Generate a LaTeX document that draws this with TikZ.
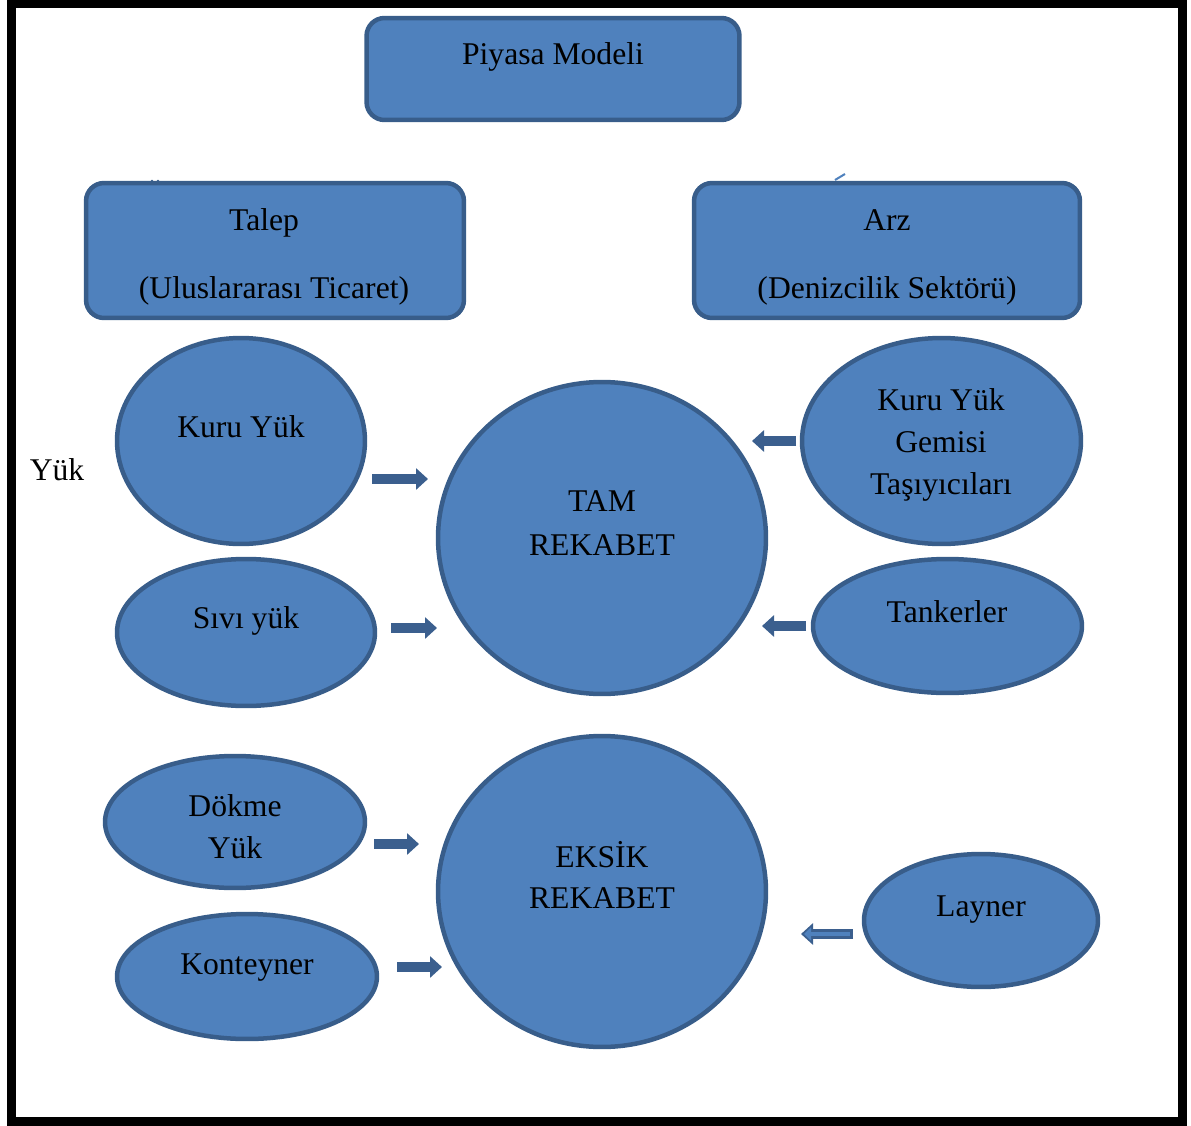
\documentclass[tikz,border=0pt]{standalone}
\usepackage{fontspec}
\setmainfont{Liberation Serif}
\usetikzlibrary{shapes.geometric,arrows.meta}
\definecolor{boxfill}{HTML}{4F81BD}
\definecolor{boxline}{HTML}{385D8A}
\definecolor{arrowblue}{HTML}{3B5F8E}

\begin{document}
\begin{tikzpicture}[x=0.02cm,y=-0.02cm]
    % Define styles
    \tikzstyle{frame}=[draw=black, line width=0.18cm]
    \tikzstyle{panel}=[draw=boxline, line width=0.09cm, fill=boxfill, rounded corners=0.36cm, inner sep=0pt]
    \tikzstyle{blob}=[ellipse, draw=boxline, line width=0.09cm, fill=boxfill, inner sep=0pt]
    \tikzstyle{txt}=[font=\fontsize{18}{24}\selectfont, align=center, inner sep=0pt]
    \tikzstyle{push}=[draw=arrowblue, line width=0.2cm, -{Triangle[length=0.24cm,width=0.42cm]}]
    \tikzstyle{hollowpush}=[draw=boxfill, line width=0.07cm, -{Triangle[length=0.14cm,width=0.26cm]}]

    \useasboundingbox (0,0) rectangle (1191,1126);
    \draw[frame] (11.5,3.5) rectangle (1182.5,1121);

    % Top: market model
    \node[panel, minimum width=7.46cm, minimum height=2.04cm] (model) at (553,69) {};
    \node[txt] (model_txt) at (553,57) {Piyasa Modeli};

    % Row 1: demand and supply
    \node[panel, minimum width=7.56cm, minimum height=2.7cm] (demand) at (275,250.5) {};
    \node[txt] (demand_txt) at (264,223) {Talep};
    \node[txt] (demand_sub) at (274,291) {(Uluslararası Ticaret)};

    \node[panel, minimum width=7.72cm, minimum height=2.7cm] (supply) at (887,250.5) {};
    \node[txt] (supply_txt) at (887,220) {Arz};
    \node[txt] (supply_sub) at (887,291) {(Denizcilik Sektörü)};

    % small marks above the boxes
    \fill[boxline] (152,181) circle (1.3) (158,181) circle (1.3);
    \draw[boxfill, line width=0.04cm] (835,180) -- (845,174);

    \node[txt] (load) at (57,470) {Yük};

    % Row 2: perfect competition
    \node[blob, minimum width=4.96cm, minimum height=4.12cm] (dry) at (241,441) {};
    \node[txt] (dry_txt) at (241,427) {Kuru Yük};

    \node[blob, minimum width=5.16cm, minimum height=2.94cm] (liquid) at (246,632.5) {};
    \node[txt] (liquid_txt) at (246,621) {Sıvı yük};

    \node[blob, minimum width=6.56cm, minimum height=6.24cm] (perfect) at (602,538) {};
    \node[txt] (perfect_txt) at (602,523) {TAM\\[1pt]REKABET};

    \node[blob, minimum width=5.58cm, minimum height=4.12cm] (bulker) at (941.5,441) {};
    \node[txt] (bulker_txt) at (941,445) {Kuru Yük\\Gemisi\\Taşıyıcıları};

    \node[blob, minimum width=5.38cm, minimum height=2.68cm] (tanker) at (947.5,626) {};
    \node[txt] (tanker_txt) at (947,612) {Tankerler};

    % Row 3: imperfect competition
    \node[blob, minimum width=5.2cm, minimum height=2.64cm] (bulk) at (235,822) {};
    \node[txt] (bulk_txt) at (235,827) {Dökme\\Yük};

    \node[blob, minimum width=5.2cm, minimum height=2.5cm] (box) at (247,976.5) {};
    \node[txt] (box_txt) at (247,968) {Konteyner};

    \node[blob, minimum width=6.56cm, minimum height=6.22cm] (imperfect) at (602,891.5) {};
    \node[txt] (imperfect_txt) at (602,875) {EKSİK\\[-1pt]REKABET};

    \node[blob, minimum width=4.68cm, minimum height=2.66cm] (liner) at (981,920.5) {};
    \node[txt] (liner_txt) at (981,910) {Layner};

    % Arrows
    \coordinate (dry_out) at (372,479);      \coordinate (dry_in) at (428,479);
    \coordinate (liquid_out) at (391,628);   \coordinate (liquid_in) at (437,628);
    \coordinate (bulk_out) at (374,844);     \coordinate (bulk_in) at (419,844);
    \coordinate (box_out) at (397,967);      \coordinate (box_in) at (442,967);
    \coordinate (bulker_out) at (796,441);   \coordinate (bulker_in) at (752,441);
    \coordinate (tanker_out) at (806,626);   \coordinate (tanker_in) at (762,626);
    \coordinate (liner_out) at (853,934);    \coordinate (liner_in) at (801,934);

    \draw[push] (dry_out) -- (dry_in);
    \draw[push] (liquid_out) -- (liquid_in);
    \draw[push] (bulk_out) -- (bulk_in);
    \draw[push] (box_out) -- (box_in);
    \draw[push] (bulker_out) -- (bulker_in);
    \draw[push] (tanker_out) -- (tanker_in);
    \draw[push] (liner_out) -- (liner_in);
    \draw[hollowpush, shorten <=0.06cm, shorten >=0.06cm] (liner_out) -- (liner_in);
\end{tikzpicture}
\end{document}
